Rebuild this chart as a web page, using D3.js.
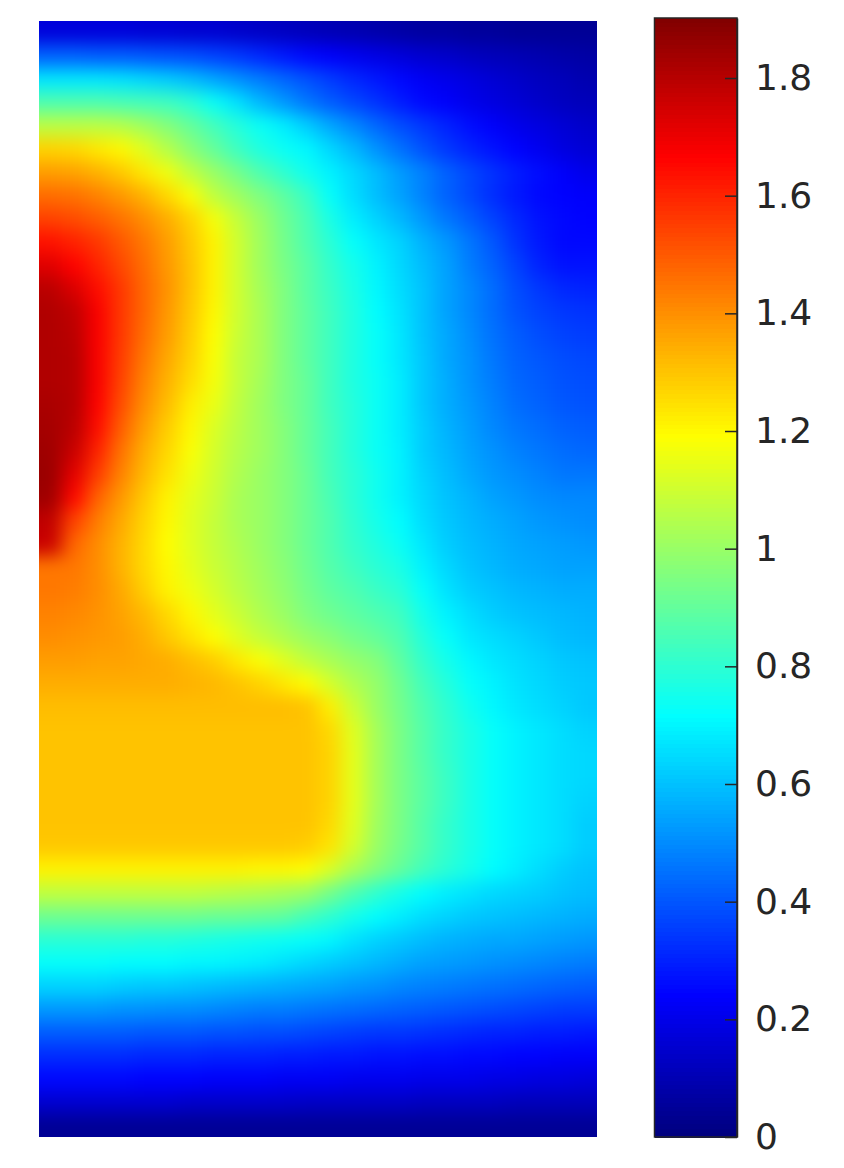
<!DOCTYPE html>
<meta charset="utf-8">
<style>
body { margin: 0; background: #fff; }
text { font-family: "DejaVu Sans", sans-serif; }
</style>
<svg width="844" height="1168"></svg>
<script src="https://d3js.org/d3.v7.min.js"></script>
<script>

// values, one row per line, top to bottom
var fieldValues = [
[.17,.17,.17,.17,.16,.16,.15,.15,.14,.13,.12,.11,.10,.09,.08,.07,.06,.06,.05,.05,.04,.04,.04,.04],
[.42,.42,.41,.41,.40,.39,.38,.36,.34,.31,.28,.25,.23,.21,.19,.17,.15,.14,.12,.11,.10,.09,.08,.07],
[.67,.67,.67,.66,.64,.62,.59,.55,.51,.47,.43,.39,.35,.31,.28,.25,.22,.20,.18,.16,.14,.12,.11,.09],
[.86,.86,.86,.85,.84,.83,.79,.73,.66,.58,.52,.46,.41,.37,.33,.29,.25,.23,.20,.18,.16,.14,.12,.11],
[1.06,1.06,1.06,1.05,1.01,.96,.90,.84,.78,.73,.68,.62,.55,.49,.43,.38,.34,.30,.26,.23,.20,.18,.16,.14],
[1.27,1.26,1.23,1.20,1.13,1.05,.97,.90,.83,.77,.73,.70,.64,.58,.51,.45,.39,.34,.30,.27,.24,.21,.18,.16],
[1.37,1.36,1.33,1.29,1.23,1.16,1.07,1.00,.93,.86,.80,.74,.69,.64,.59,.53,.48,.42,.37,.33,.29,.26,.23,.20],
[1.46,1.45,1.42,1.38,1.33,1.26,1.18,1.07,1.01,.95,.89,.82,.72,.65,.59,.54,.48,.42,.37,.32,.28,.25,.24,.23],
[1.54,1.52,1.49,1.45,1.40,1.34,1.27,1.17,1.08,1.00,.92,.85,.76,.68,.63,.58,.52,.46,.41,.36,.31,.27,.25,.24],
[1.63,1.60,1.56,1.50,1.44,1.37,1.29,1.21,1.10,1.01,.93,.86,.79,.72,.67,.63,.57,.52,.46,.40,.33,.28,.25,.25],
[1.72,1.66,1.60,1.53,1.46,1.38,1.30,1.21,1.10,1.01,.94,.88,.81,.75,.69,.64,.59,.54,.47,.42,.36,.30,.27,.27],
[1.79,1.73,1.64,1.56,1.47,1.39,1.30,1.21,1.10,1.02,.95,.88,.82,.76,.70,.65,.60,.54,.49,.44,.38,.34,.31,.30],
[1.81,1.78,1.67,1.56,1.47,1.38,1.29,1.20,1.10,1.03,.95,.89,.83,.77,.71,.66,.60,.54,.49,.44,.39,.36,.34,.33],
[1.81,1.79,1.67,1.56,1.46,1.37,1.28,1.19,1.09,1.03,.95,.89,.83,.77,.72,.67,.60,.55,.50,.45,.41,.38,.36,.35],
[1.81,1.80,1.67,1.55,1.44,1.35,1.27,1.18,1.08,1.03,.95,.89,.83,.77,.72,.67,.61,.55,.51,.46,.42,.40,.38,.37],
[1.81,1.80,1.67,1.54,1.42,1.33,1.25,1.17,1.08,1.02,.95,.90,.83,.77,.73,.68,.61,.56,.51,.47,.43,.41,.39,.38],
[1.82,1.80,1.66,1.52,1.40,1.31,1.22,1.15,1.07,1.01,.95,.90,.83,.78,.73,.68,.61,.56,.52,.48,.44,.42,.40,.39],
[1.83,1.79,1.64,1.49,1.37,1.28,1.20,1.12,1.06,1.01,.96,.90,.84,.78,.73,.68,.62,.57,.53,.49,.46,.44,.42,.41],
[1.84,1.76,1.60,1.45,1.34,1.26,1.18,1.11,1.05,1.01,.96,.90,.84,.78,.73,.69,.62,.58,.54,.51,.48,.46,.44,.43],
[1.85,1.71,1.55,1.42,1.32,1.24,1.16,1.10,1.04,1.00,.96,.91,.84,.79,.74,.69,.63,.59,.55,.52,.50,.48,.46,.46],
[1.84,1.65,1.48,1.38,1.29,1.21,1.14,1.09,1.03,1.00,.96,.91,.85,.79,.74,.69,.64,.60,.57,.54,.52,.50,.49,.49],
[1.78,1.54,1.43,1.35,1.27,1.20,1.13,1.08,1.03,1.00,.96,.91,.86,.80,.75,.71,.65,.61,.58,.56,.54,.52,.51,.50],
[1.76,1.47,1.40,1.33,1.26,1.19,1.13,1.08,1.04,1.00,.96,.91,.86,.81,.77,.73,.67,.62,.59,.57,.55,.54,.53,.52],
[1.44,1.44,1.40,1.33,1.26,1.20,1.14,1.09,1.05,1.01,.97,.92,.87,.83,.79,.76,.69,.64,.60,.58,.56,.55,.54,.54],
[1.44,1.43,1.40,1.35,1.28,1.21,1.16,1.11,1.06,1.02,.98,.93,.89,.86,.82,.79,.72,.66,.62,.60,.58,.57,.56,.56],
[1.42,1.41,1.39,1.36,1.32,1.26,1.20,1.14,1.09,1.04,1.00,.95,.92,.89,.86,.83,.75,.69,.65,.62,.60,.59,.58,.57],
[1.40,1.39,1.38,1.37,1.34,1.29,1.24,1.19,1.13,1.08,1.04,1.00,.97,.93,.90,.86,.78,.72,.67,.65,.63,.61,.59,.58],
[1.37,1.37,1.36,1.36,1.35,1.34,1.31,1.28,1.23,1.18,1.13,1.07,1.03,.99,.96,.89,.81,.75,.70,.67,.65,.63,.61,.60],
[1.34,1.34,1.34,1.34,1.34,1.34,1.33,1.32,1.30,1.27,1.23,1.19,1.11,1.04,.99,.92,.84,.78,.72,.69,.66,.64,.62,.61],
[1.31,1.31,1.31,1.31,1.31,1.31,1.31,1.31,1.31,1.31,1.31,1.30,1.22,1.09,1.00,.93,.86,.80,.74,.70,.67,.65,.63,.61],
[1.30,1.30,1.30,1.30,1.30,1.30,1.30,1.30,1.30,1.30,1.30,1.30,1.26,1.13,1.02,.94,.87,.81,.76,.72,.69,.67,.65,.63],
[1.30,1.30,1.30,1.30,1.30,1.30,1.30,1.30,1.30,1.30,1.30,1.30,1.27,1.14,1.02,.94,.87,.81,.76,.72,.69,.67,.65,.64],
[1.30,1.30,1.30,1.30,1.30,1.30,1.30,1.30,1.30,1.30,1.30,1.30,1.27,1.14,1.02,.94,.88,.82,.76,.72,.69,.67,.65,.64],
[1.30,1.30,1.30,1.30,1.30,1.30,1.30,1.30,1.30,1.30,1.30,1.30,1.27,1.14,1.02,.94,.88,.82,.76,.72,.69,.67,.65,.63],
[1.30,1.30,1.30,1.30,1.30,1.30,1.30,1.30,1.30,1.30,1.30,1.30,1.26,1.13,1.01,.94,.87,.81,.76,.72,.69,.67,.65,.62],
[1.29,1.29,1.29,1.29,1.29,1.29,1.29,1.29,1.29,1.29,1.29,1.28,1.24,1.11,1.00,.93,.87,.81,.76,.72,.69,.67,.65,.62],
[1.21,1.21,1.21,1.21,1.21,1.21,1.21,1.21,1.21,1.20,1.20,1.19,1.12,1.03,.96,.90,.84,.79,.75,.71,.68,.65,.62,.60],
[1.07,1.07,1.07,1.07,1.07,1.07,1.07,1.06,1.05,1.04,1.02,1.00,.93,.86,.80,.75,.71,.68,.66,.64,.63,.62,.60,.59],
[.92,.92,.92,.92,.92,.92,.92,.91,.91,.90,.89,.84,.80,.75,.71,.68,.65,.63,.61,.60,.59,.58,.57,.56],
[.79,.79,.79,.79,.78,.78,.77,.76,.75,.74,.73,.72,.70,.66,.63,.61,.59,.57,.56,.55,.55,.54,.53,.52],
[.72,.72,.72,.71,.71,.71,.70,.70,.69,.68,.66,.64,.62,.60,.58,.56,.54,.53,.52,.51,.50,.49,.48,.47],
[.63,.63,.63,.62,.61,.61,.60,.59,.58,.57,.56,.55,.54,.52,.51,.49,.48,.47,.46,.45,.44,.43,.42,.41],
[.52,.52,.52,.51,.51,.50,.50,.49,.48,.47,.47,.46,.45,.44,.43,.42,.41,.40,.39,.38,.37,.36,.35,.35],
[.41,.41,.41,.41,.40,.40,.40,.39,.39,.38,.38,.37,.36,.35,.34,.34,.33,.32,.31,.30,.30,.29,.29,.28],
[.32,.32,.32,.32,.31,.31,.31,.30,.30,.30,.29,.29,.28,.28,.27,.27,.26,.26,.25,.25,.24,.24,.23,.23],
[.25,.25,.25,.25,.24,.24,.24,.23,.23,.23,.22,.22,.22,.21,.21,.21,.20,.20,.20,.19,.19,.18,.18,.17],
[.15,.15,.15,.15,.15,.15,.14,.14,.14,.14,.14,.13,.13,.13,.13,.13,.12,.12,.12,.12,.11,.11,.11,.11],
[.04,.04,.04,.04,.04,.04,.04,.04,.04,.04,.04,.04,.04,.04,.04,.04,.04,.04,.04,.04,.04,.04,.04,.04]
];

var colorTicks = [0, 0.2, 0.4, 0.6, 0.8, 1, 1.2, 1.4, 1.6, 1.8];
var tickLabels = ["0", "0.2", "0.4", "0.6", "0.8", "1", "1.2", "1.4", "1.6", "1.8"];
var jetStops = [0, 0.125, 0.375, 0.625, 0.875, 1];
var jetColors = ["#00007f", "#0000ff", "#00ffff", "#ffff00", "#ff0000", "#7f0000"];

var colorMax = 1.9,
    barTop = 1.902;

var svg = d3.select("svg");

var jet = d3.scaleLinear().domain(jetStops.map(function(d) { return d * colorMax; })).range(jetColors).clamp(true);

var x = d3.scaleBand().domain(d3.range(fieldValues[0].length)).range([39, 597]);
var y = d3.scaleBand().domain(d3.range(fieldValues.length)).range([21, 1137]);
var yBar = d3.scaleLinear().domain([0, barTop]).range([1137, 18]);

var defs = svg.append("defs");

defs.append("clipPath").attr("id", "field-clip")
  .append("rect")
    .attr("x", 39).attr("y", 21)
    .attr("width", 558).attr("height", 1116);

defs.append("filter").attr("id", "smooth")
    .attr("filterUnits", "userSpaceOnUse")
    .attr("x", -60).attr("y", -60)
    .attr("width", 800).attr("height", 1290)
    .attr("color-interpolation-filters", "sRGB")
  .append("feGaussianBlur")
    .attr("stdDeviation", 9);

var cells = [];
fieldValues.forEach(function(row, j) {
  row.forEach(function(v, i) { cells.push({i: i, j: j, v: v}); });
});

// outermost cells run on past the clip so the blur does not fade at the edges
var bleed = 50,
    lastI = fieldValues[0].length - 1,
    lastJ = fieldValues.length - 1;

svg.append("g")
    .attr("clip-path", "url(#field-clip)")
  .append("g")
    .attr("filter", "url(#smooth)")
  .selectAll("rect")
  .data(cells)
  .join("rect")
    .attr("x", function(d) { return x(d.i) - (d.i == 0 ? bleed : 0); })
    .attr("y", function(d) { return y(d.j) - (d.j == 0 ? bleed : 0); })
    .attr("width", function(d) { return x.bandwidth() + 0.5 + (d.i == 0 || d.i == lastI ? bleed : 0); })
    .attr("height", function(d) { return y.bandwidth() + 0.5 + (d.j == 0 || d.j == lastJ ? bleed : 0); })
    .attr("shape-rendering", "crispEdges")
    .attr("fill", function(d) { return jet(d.v); });

// colour bar
var barLevels = d3.range(0, 256).map(function(k) { return k / 256 * barTop; });
var barX = 654.5, barW = 82.5;

svg.append("g").selectAll("rect")
  .data(barLevels)
  .join("rect")
    .attr("x", barX)
    .attr("width", barW)
    .attr("y", function(d) { return yBar(d + barTop / 256); })
    .attr("height", yBar(0) - yBar(barTop / 256) + 0.5)
    .attr("shape-rendering", "crispEdges")
    .attr("fill", function(d) { return jet(d); });

svg.append("rect")
    .attr("x", barX).attr("y", 18)
    .attr("width", barW).attr("height", 1119)
    .attr("fill", "none")
    .attr("stroke", "#262626")
    .attr("stroke-width", 1.5);

var axis = d3.axisRight(yBar)
    .tickValues(colorTicks)
    .tickFormat(function(d, i) { return tickLabels[i]; })
    .tickSizeInner(-12)
    .tickSizeOuter(0)
    .tickPadding(18);

var axisG = svg.append("g")
    .attr("transform", "translate(" + (barX + barW) + ",0)")
    .call(axis);

axisG.select(".domain").attr("stroke", "#262626").attr("stroke-width", 1.5);
axisG.selectAll(".tick line").attr("stroke", "#262626").attr("stroke-width", 1.5);
axisG.selectAll(".tick text")
    .attr("fill", "#262626")
    .style("font-family", '"DejaVu Sans", sans-serif')
    .style("font-size", "36px");

</script>
